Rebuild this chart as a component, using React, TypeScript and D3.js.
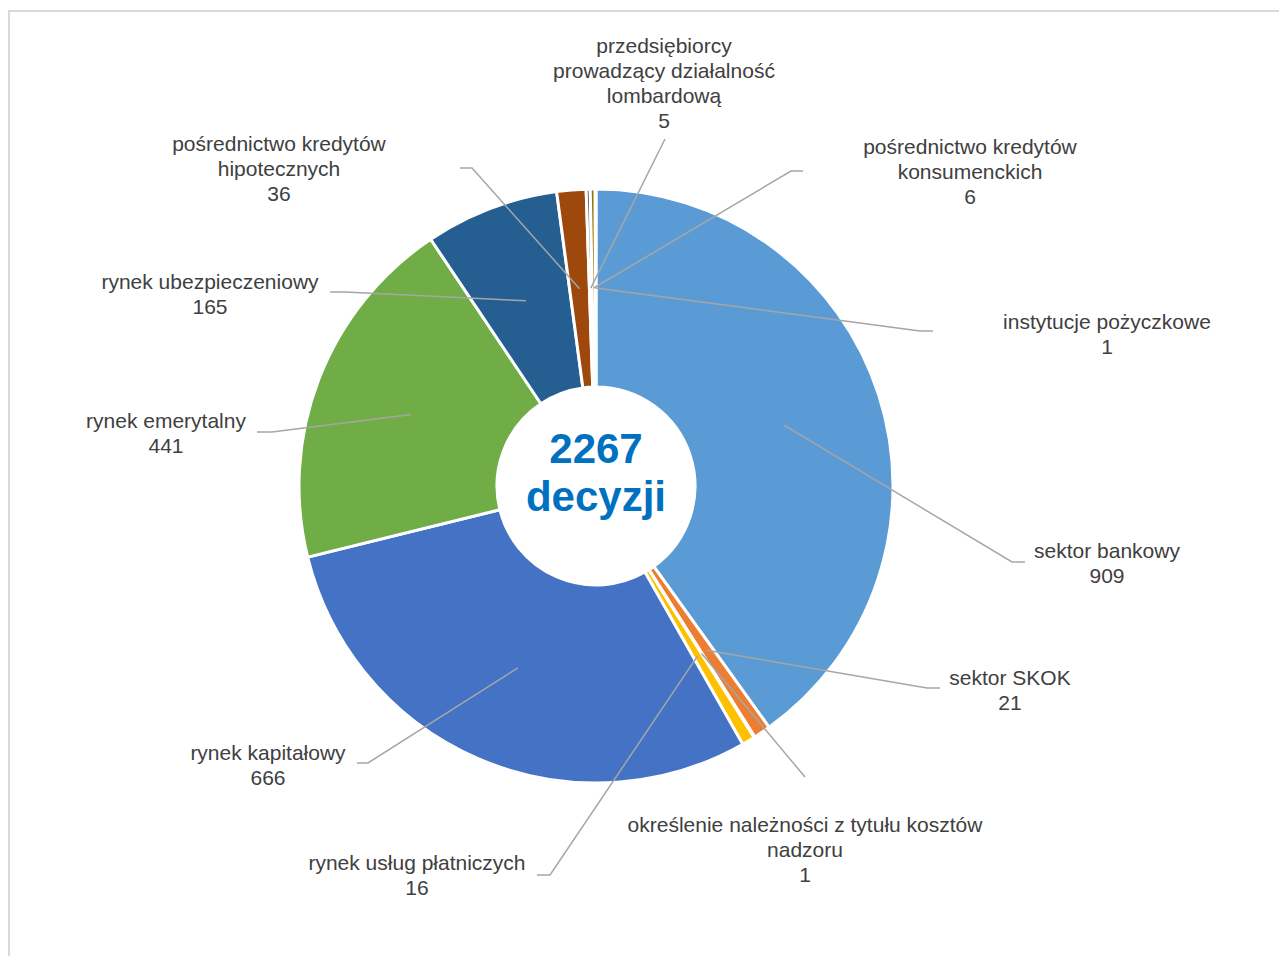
import React from "react";
import * as d3 from "d3";

// ---- data ----
const categories = [
  "sektor bankowy",
  "sektor SKOK",
  "określenie należności z tytułu kosztów nadzoru",
  "rynek usług płatniczych",
  "rynek kapitałowy",
  "rynek emerytalny",
  "rynek ubezpieczeniowy",
  "pośrednictwo kredytów hipotecznych",
  "przedsiębiorcy prowadzący działalność lombardową",
  "pośrednictwo kredytów konsumenckich",
  "instytucje pożyczkowe",
];
const values = [909, 21, 1, 16, 666, 441, 165, 36, 5, 6, 1];
const labelLines = [
  ["sektor bankowy"],
  ["sektor SKOK"],
  ["określenie należności z tytułu kosztów", "nadzoru"],
  ["rynek usług płatniczych"],
  ["rynek kapitałowy"],
  ["rynek emerytalny"],
  ["rynek ubezpieczeniowy"],
  ["pośrednictwo kredytów", "hipotecznych"],
  ["przedsiębiorcy", "prowadzący działalność", "lombardową"],
  ["pośrednictwo kredytów", "konsumenckich"],
  ["instytucje pożyczkowe"],
];
const colors = [
  "#5B9BD5", "#ED7D31", "#A5A5A5", "#FFC000", "#4472C4", "#70AD47",
  "#255E91", "#9E480E", "#636363", "#997300", "#264478",
];
const centerLines = ["2267", "decyzji"];

// ---- label layout (text block anchor, leader elbow, leader end) ----
const labelAnchor: [number, number][] = [
  [1107, 550], [1010, 677], [805, 824], [417, 862], [268, 752], [166, 420],
  [210, 281], [279, 143], [664, 45], [970, 146], [1107, 321],
];
const leaderElbow: [number, number][] = [
  [1012, 562], [927, 688], [805, 777], [550, 875], [368, 763], [272, 432],
  [345, 292], [472, 168], [665, 139], [791, 171], [920, 331],
];
const leaderEnd: [number, number][] = [
  [1025, 562], [940, 688], [805, 777], [537, 875], [357, 763], [257, 432],
  [330, 292], [460, 168], [665, 139], [803, 171], [933, 331],
];

const W = 1279;
const H = 956;
const CX = 596;
const CY = 486;
const R_OUT = 297;
const R_IN = 99;

export default function App() {
  const pie = d3
    .pie<number>()
    .sort(null)
    .startAngle(0)
    .endAngle(2 * Math.PI)
    .value((d) => d);
  const arcs = pie(values);
  const arc = d3.arc<d3.PieArcDatum<number>>().innerRadius(R_IN).outerRadius(R_OUT);
  const font = "'Liberation Sans', Arial, sans-serif";
  const lineH = 25.3;

  return (
    <svg
      width={W}
      height={H}
      style={{ position: "absolute", left: 0, top: 0, background: "#fff" }}
    >
      <rect x={9} y={11} width={1400} height={1100} fill="#fff" stroke="#D9D9D9" strokeWidth={2} />
      <g transform={`translate(${CX},${CY})`}>
        {arcs.map((a, i) => (
          <path key={i} d={arc(a) || ""} fill={colors[i]} stroke="#fff" strokeWidth={3} />
        ))}
      </g>
      {arcs.map((a, i) => {
        const [px, py] = arc.centroid(a);
        const pts: [number, number][] = [
          [CX + px, CY + py],
          leaderElbow[i],
          leaderEnd[i],
        ];
        return (
          <polyline
            key={"l" + i}
            points={pts.map((p) => p.join(",")).join(" ")}
            fill="none"
            stroke="#A6A6A6"
            strokeWidth={1.5}
          />
        );
      })}
      {categories.map((c, i) => {
        const lines = [...labelLines[i], String(values[i])];
        const [lx, ly] = labelAnchor[i];
        return (
          <text
            key={"t" + i}
            fontFamily={font}
            fontSize={21}
            fill="#404040"
            textAnchor="middle"
          >
            {lines.map((ln, j) => (
              <tspan key={j} x={lx} y={ly + 7.5 + j * lineH}>
                {ln}
              </tspan>
            ))}
          </text>
        );
      })}
      <text
        fontFamily={font}
        fontSize={42}
        fontWeight="bold"
        fill="#0070C0"
        textAnchor="middle"
      >
        <tspan x={CX} y={463}>{centerLines[0]}</tspan>
        <tspan x={CX} y={511}>{centerLines[1]}</tspan>
      </text>
    </svg>
  );
}
